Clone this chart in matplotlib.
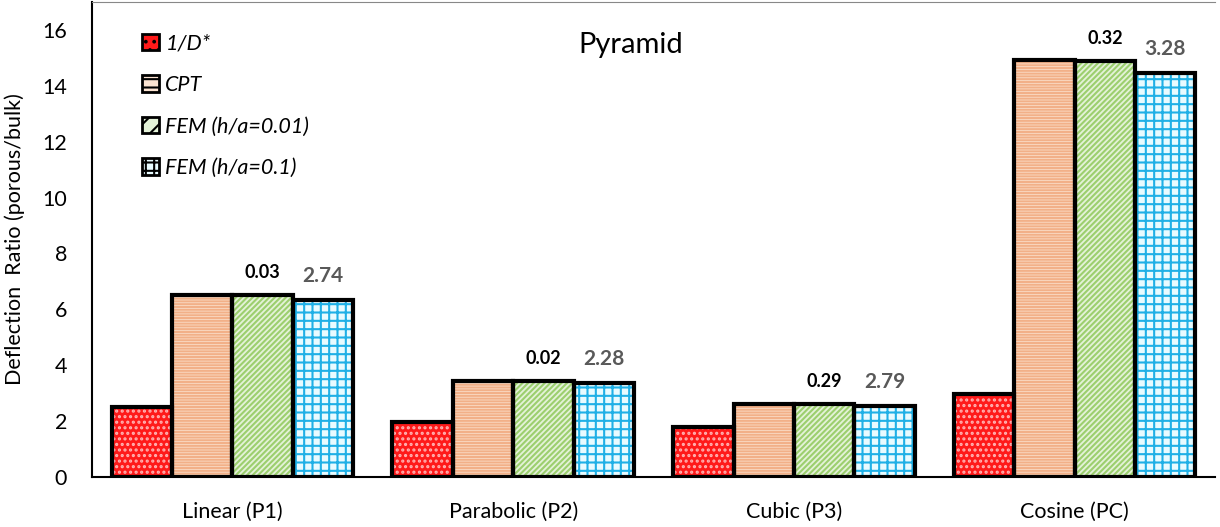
import numpy as np
import matplotlib.pyplot as plt
from matplotlib.patches import Patch

categories = ['Linear (P1)', 'Parabolic (P2)', 'Cubic (P3)', 'Cosine (PC)']
series = ['1/D*', 'CPT', 'FEM (h/a=0.01)', 'FEM (h/a=0.1)']
inv_d = [2.50, 1.97, 1.80, 2.97]
cpt = [6.51, 3.44, 2.62, 14.92]
fem_001 = [6.51, 3.44, 2.61, 14.90]
fem_01 = [6.35, 3.37, 2.55, 14.46]
diff_001 = ['0.03', '0.02', '0.29', '0.32']
diff_01 = ['2.74', '2.28', '2.79', '3.28']

plt.rcParams['font.family'] = ['Lato', 'DejaVu Sans']
plt.rcParams['hatch.linewidth'] = 1.5

# fill colour, hatch colour, hatch pattern
estilos = [
    ('#ff1a1a', '#ffb3b3', '...'),
    ('#fce4d2', '#f2b088', '------'),
    ('#e4f2d8', '#9ccf6e', '//////'),
    ('#e8fbff', '#1fb0e6', '++'),
]

fig = plt.figure(figsize=(12.2, 5.27), dpi=100)
ax = fig.add_axes([0.0754, 0.095, 0.9206, 0.901])

x = np.arange(len(categories))
w = 0.215
datos = [inv_d, cpt, fem_001, fem_01]
handles = []
for i, (vals, (fc, hc, hatch)) in enumerate(zip(datos, estilos)):
    pos = x + (i - 1.5) * w
    ax.bar(pos, vals, w, color=fc, edgecolor=hc, hatch=hatch, linewidth=0, zorder=2)
    ax.bar(pos, vals, w, facecolor='none', edgecolor='black', linewidth=3, zorder=3)
    handles.append(Patch(facecolor=fc, edgecolor=hc, hatch=hatch[:2], linewidth=0))

# etiquetas sobre las barras FEM
for j in range(len(categories)):
    ax.annotate(diff_001[j], (x[j] + 0.5 * w, fem_001[j]), xytext=(0, 10),
                textcoords='offset points', ha='center', va='bottom',
                fontsize=13, fontweight='bold', color='black')
    ax.annotate(diff_01[j], (x[j] + 1.5 * w, fem_01[j]), xytext=(0, 10),
                textcoords='offset points', ha='center', va='bottom',
                fontsize=15, fontweight='bold', color='#595959')

ax.set_xlim(-0.5, 3.5)
ax.set_ylim(0, 17)
ax.set_yticks(range(0, 17, 2))
ax.set_xticks(x)
ax.set_xticklabels(categories)
ax.tick_params(axis='both', length=0, labelsize=15.5)
ax.tick_params(axis='y', pad=18)
ax.tick_params(axis='x', pad=18)
ax.set_ylabel('Deflection  Ratio (porous/bulk)', fontsize=15.5, labelpad=12)

ax.spines['right'].set_visible(False)
ax.spines['top'].set_color('#888888')
ax.spines['left'].set_linewidth(1.5)
ax.spines['bottom'].set_linewidth(1.5)

ax.text(0.48, 0.91, 'Pyramid', transform=ax.transAxes, ha='center', va='center',
        fontsize=21)

leg = ax.legend(handles, series, loc='upper left', bbox_to_anchor=(0.027, 0.975),
                frameon=False, handlelength=0.8, handleheight=0.8, handletextpad=0.3,
                labelspacing=1.0, prop={'style': 'italic', 'size': 15.5})
for h in leg.legend_handles:
    h.set_edgecolor('black')
    h.set_linewidth(2)

fig.savefig('out.png', dpi=100)
